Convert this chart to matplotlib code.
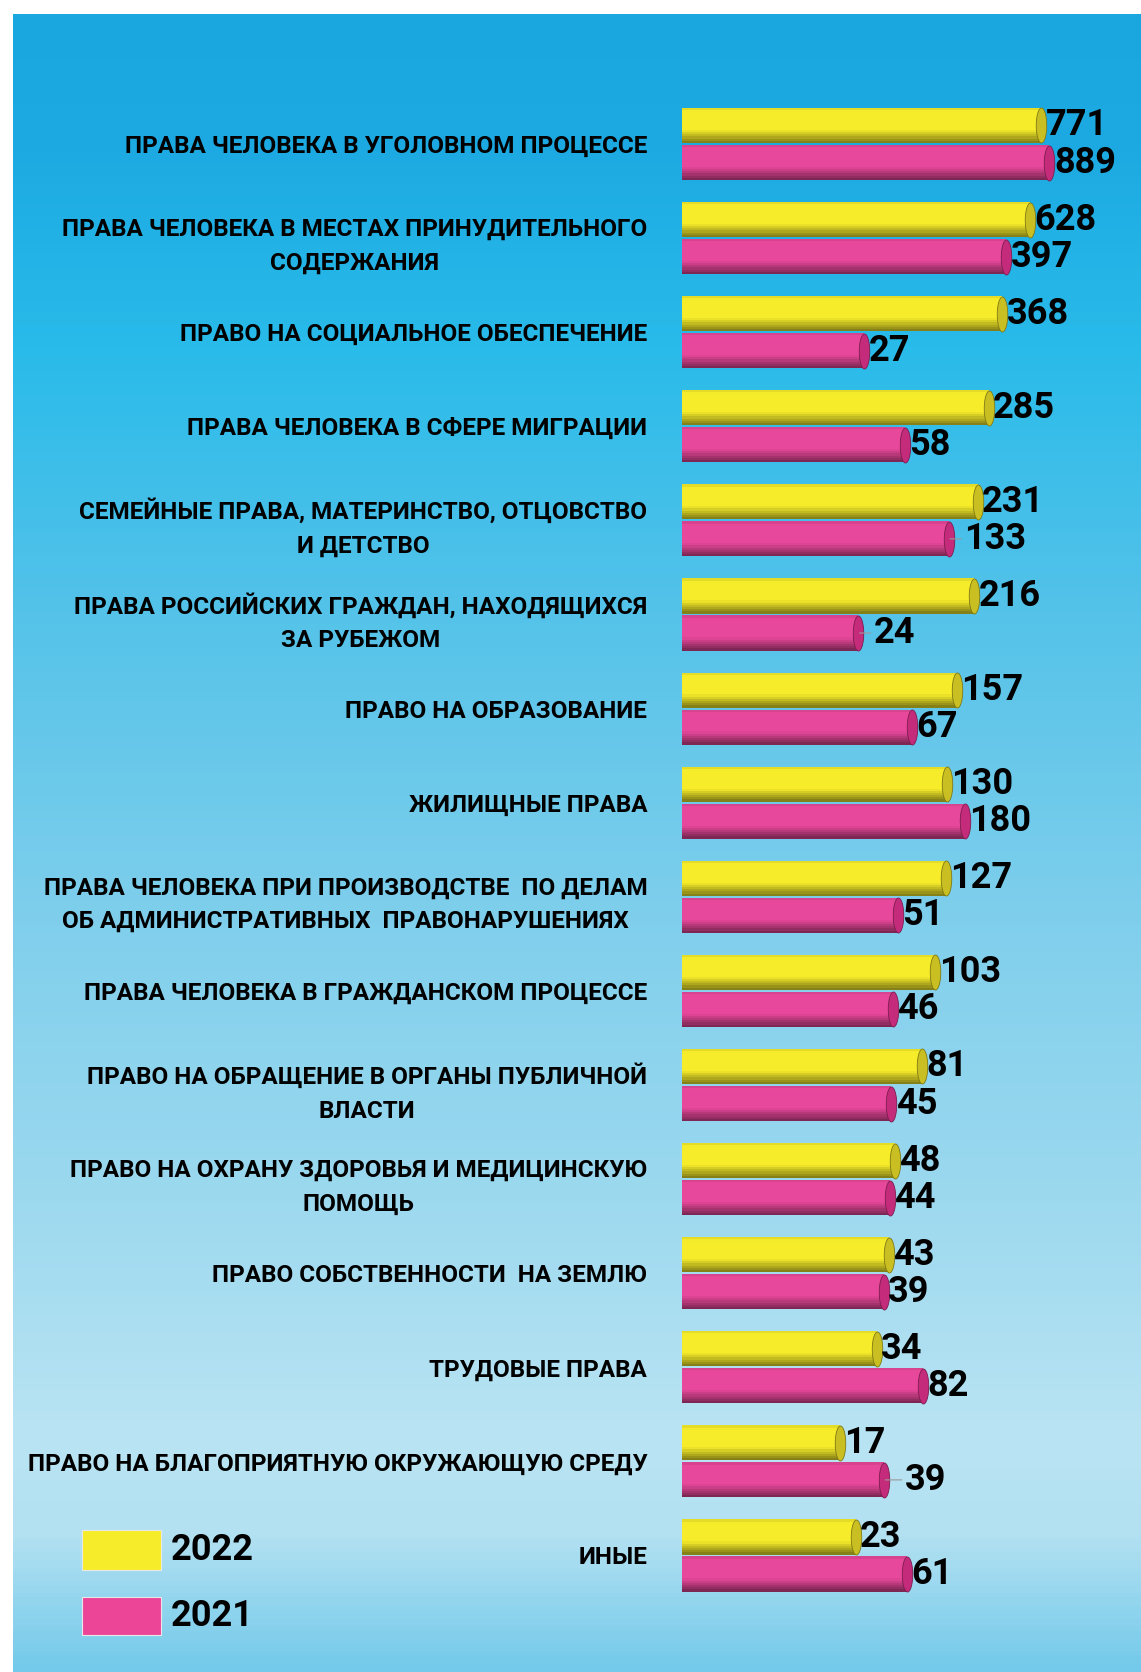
import numpy as np
import matplotlib
matplotlib.use("Agg")
import matplotlib.pyplot as plt
from matplotlib.colors import LinearSegmentedColormap, to_rgb
from matplotlib.path import Path
from matplotlib.patches import Rectangle

plt.rcParams['font.family'] = ['Roboto', 'DejaVu Sans']

categories = [
    "ПРАВА ЧЕЛОВЕКА В УГОЛОВНОМ ПРОЦЕССЕ",
    "ПРАВА ЧЕЛОВЕКА В МЕСТАХ ПРИНУДИТЕЛЬНОГО\nСОДЕРЖАНИЯ",
    "ПРАВО НА СОЦИАЛЬНОЕ ОБЕСПЕЧЕНИЕ",
    "ПРАВА ЧЕЛОВЕКА В СФЕРЕ МИГРАЦИИ",
    "СЕМЕЙНЫЕ ПРАВА, МАТЕРИНСТВО, ОТЦОВСТВО\nИ ДЕТСТВО",
    "ПРАВА РОССИЙСКИХ ГРАЖДАН, НАХОДЯЩИХСЯ\nЗА РУБЕЖОМ",
    "ПРАВО НА ОБРАЗОВАНИЕ",
    "ЖИЛИЩНЫЕ ПРАВА",
    "ПРАВА ЧЕЛОВЕКА ПРИ ПРОИЗВОДСТВЕ  ПО ДЕЛАМ\nОБ АДМИНИСТРАТИВНЫХ  ПРАВОНАРУШЕНИЯХ",
    "ПРАВА ЧЕЛОВЕКА В ГРАЖДАНСКОМ ПРОЦЕССЕ",
    "ПРАВО НА ОБРАЩЕНИЕ В ОРГАНЫ ПУБЛИЧНОЙ\nВЛАСТИ",
    "ПРАВО НА ОХРАНУ ЗДОРОВЬЯ И МЕДИЦИНСКУЮ\nПОМОЩЬ",
    "ПРАВО СОБСТВЕННОСТИ  НА ЗЕМЛЮ",
    "ТРУДОВЫЕ ПРАВА",
    "ПРАВО НА БЛАГОПРИЯТНУЮ ОКРУЖАЮЩУЮ СРЕДУ",
    "ИНЫЕ",
]
vals_2022 = [771, 628, 368, 285, 231, 216, 157, 130, 127, 103, 81, 48, 43, 34, 17, 23]
vals_2021 = [889, 397, 27, 58, 133, 24, 67, 180, 51, 46, 45, 44, 39, 82, 39, 61]
series_names = ["2022", "2021"]

# label gaps (points) for the 2021 values, a few are pushed out with a leader line
pad_2021 = [4, 3, 3, 3, 11, 11, 3, 3, 3, 3, 3, 3, 3, 3, 15, 3]

W, H = 1141, 1672
fig = plt.figure(figsize=(W / 100, H / 100), dpi=100, facecolor="white")

# background panel
bg = fig.add_axes([13 / W, 0, 1 - 13 / W, 1 - 14 / H])
cmap = LinearSegmentedColormap.from_list("bg", [
    (0.0, "#1aa6df"), (0.08, "#1daae2"), (0.2, "#29bbea"), (0.35, "#52c2e9"),
    (0.55, "#80cfec"), (0.72, "#9dd9ef"), (0.86, "#b9e4f3"), (0.92, "#b3e1f2"),
    (1.0, "#74caea")])
bg.imshow(np.linspace(0, 1, 400)[:, None], aspect="auto", cmap=cmap,
          extent=[0, 1, 1, 0])
bg.axis("off")

# bar axes (log scale, the bar lengths in the original follow a log scale)
ax = fig.add_axes([682 / W, 0, 1 - 682 / W, 1])
ax.patch.set_alpha(0)
pitch = 94.1
ax.set_xscale("log")
x0, x1 = 0.85, 5100
ax.set_xlim(x0, x1)
ax.set_ylim((H - 144) / pitch, -144 / pitch)

y = np.arange(len(categories))
off = 0.1966
bh = 35 / pitch


def shade(base, t):
    c = np.array(to_rgb(base))
    if t < 0.1:
        f = 0.9 + t
    elif t < 0.62:
        f = 1.0
    else:
        f = 1.0 - (t - 0.62) / 0.38 * 0.5
    return tuple(np.clip(c * f, 0, 1))


def cylinder(pos, vals, base, cap):
    n = 16
    for k in range(n):
        t = (k + 0.5) / n
        ax.barh(pos - bh / 2 + t * bh, np.array(vals) - x0, left=x0,
                height=bh / n * 1.05, color=shade(base, t), linewidth=0, zorder=2)
    th = np.linspace(0, 2 * np.pi, 60)
    ell = Path(np.column_stack([0.3 * np.cos(th), np.sin(th)]), closed=True)
    ax.scatter(vals, pos, marker=ell, s=(35 * 0.72) ** 2, color=cap,
               edgecolors=shade(cap, 0.9), linewidths=0.6, zorder=3)


cylinder(y - off, vals_2022, "#f6ec2a", "#c9bf22")
cylinder(y + off, vals_2021, "#e8489b", "#c42c7b")

num_font = dict(fontsize=26, fontweight="bold", color="black", va="center", ha="left")
for yi, v in zip(y, vals_2022):
    ax.annotate(str(v), (v, yi - off), xytext=(3, 0), textcoords="offset points",
                zorder=4, **num_font)
for yi, v, p in zip(y, vals_2021, pad_2021):
    arrow = dict(arrowstyle="-", color="#9a9a9a", lw=0.8, shrinkA=0, shrinkB=1) if p > 5 else None
    ax.annotate(str(v), (v, yi + off), xytext=(p, 0), textcoords="offset points",
                arrowprops=arrow, zorder=4, **num_font)

ax.set_yticks(y, labels=categories)
ax.tick_params(axis="y", length=0, pad=25, labelsize=17.5)
ax.tick_params(axis="x", bottom=False, labelbottom=False, which="both")
for lab in ax.get_yticklabels():
    lab.set_fontweight("bold")
    lab.set_multialignment("center")
    lab.set_linespacing(1.6)
for s in ax.spines.values():
    s.set_visible(False)

# legend
for (top, bottom), name, col in zip([(1530, 1570), (1597, 1635)], series_names,
                                    ["#f6ec2a", "#ec4598"]):
    fig.patches.append(Rectangle((82 / W, 1 - bottom / H), 79 / W, (bottom - top) / H,
                                 transform=fig.transFigure, facecolor=col,
                                 edgecolor="#e8e8e8", linewidth=0.8))
    fig.text(171 / W, 1 - (top + bottom) / 2 / H, name, fontsize=26, fontweight="bold",
             va="center", ha="left")

fig.savefig("out.png", dpi=100, facecolor="white")
